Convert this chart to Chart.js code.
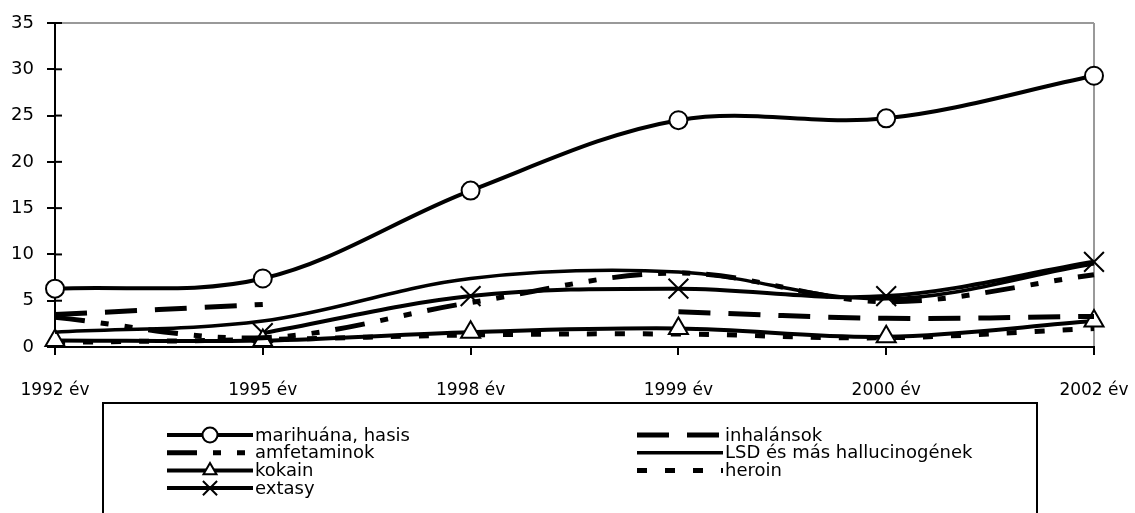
<!DOCTYPE html>
<html>
<head>
<meta charset="utf-8">
<script src="https://cdn.jsdelivr.net/npm/chart.js@4"></script>
<style>
  html, body { margin: 0; padding: 0; background: #fff; }
  #wrap { width: 1135px; height: 513px; position: relative; }
</style>
</head>
<body>
<div id="wrap"><canvas id="chartDrogok"></canvas></div>
<script>
// Data
const labels = ['1992 év', '1995 év', '1998 év', '1999 év', '2000 év', '2002 év'];
const marihuana = [6.3, 7.4, 16.9, 24.5, 24.7, 29.3];
const inhalansok = [3.5, 4.6, null, 3.8, 3.1, 3.3];
const amfetaminok = [3.2, 1.0, 4.8, 8.0, 4.9, 7.8];
const lsd = [1.6, 2.8, 7.4, 8.1, 5.2, 9.0];
const kokain = [0.7, 0.7, 1.6, 2.0, 1.1, 2.8];
const heroin = [0.5, 0.8, 1.3, 1.4, 1.0, 2.0];
const extasy = [null, 1.5, 5.5, 6.3, 5.5, 9.2];
const yTicks = [0, 5, 10, 15, 20, 25, 30, 35];

const fontFam = '"DejaVu Sans", sans-serif';

function serie(label, data, dash, style, width, radius) {
	return {
		label: label,
		data: data,
		borderColor: '#000',
		backgroundColor: '#fff',
		borderWidth: width,
		borderDash: dash,
		pointStyle: style || false,
		pointRadius: style ? radius : 0,
		pointBorderWidth: 2,
		pointBorderColor: '#000',
		pointBackgroundColor: '#fff',
		tension: 0.35,
		spanGaps: false
	};
}

const datasets = [
	serie('marihuána, hasis', marihuana, [], 'circle', 4, 9),
	serie('inhalánsok', inhalansok, [32, 18], null, 5),
	serie('amfetaminok', amfetaminok, [30, 16, 8, 16, 8, 16], null, 5),
	serie('LSD és más hallucinogének', lsd, [], null, 3.5),
	serie('kokain', kokain, [], 'triangle', 4, 11),
	serie('heroin', heroin, [10, 18], null, 5),
	serie('extasy', extasy, [], 'crossRot', 4, 14)
];

// Legend in a box, two columns
const boxLegend = {
	id: 'boxLegend',
	afterDraw(chart) {
		const ctx = chart.ctx;
		ctx.save();
		ctx.setLineDash([]);
		ctx.strokeStyle = '#000';
		ctx.lineWidth = 2;
		ctx.strokeRect(103, 403, 934, 130);
		ctx.font = '18px ' + fontFam;
		ctx.textBaseline = 'middle';
		ctx.fillStyle = '#000';
		chart.data.datasets.forEach(function(ds, i) {
			const col = i % 2;
			const row = Math.floor(i / 2);
			const x0 = col == 0 ? 167 : 637;
			const y = 435 + row * 17.7;
			ctx.strokeStyle = '#000';
			ctx.lineWidth = ds.borderWidth;
			ctx.setLineDash(ds.borderDash);
			ctx.beginPath();
			ctx.moveTo(x0, y);
			ctx.lineTo(x0 + 86, y);
			ctx.stroke();
			ctx.setLineDash([]);
			if (ds.pointStyle) {
				ctx.lineWidth = 2;
				ctx.fillStyle = '#fff';
				const r = ds.pointStyle == 'crossRot' ? 10 : 7.5;
				Chart.helpers.drawPoint(ctx, {pointStyle: ds.pointStyle, radius: r, borderWidth: 2, rotation: 0}, x0 + 43, y);
			}
			ctx.fillStyle = '#000';
			ctx.fillText(ds.label, x0 + 88, y + 1);
		});
		// inner half of the y tick marks
		const yScale = chart.scales.y;
		ctx.strokeStyle = '#000';
		ctx.lineWidth = 2;
		yTicks.forEach(function(v) {
			const py = yScale.getPixelForValue(v);
			ctx.beginPath();
			ctx.moveTo(chart.chartArea.left, py);
			ctx.lineTo(chart.chartArea.left + 7, py);
			ctx.stroke();
		});
		ctx.restore();
	}
};

const drogChart = new Chart(document.getElementById('chartDrogok'), {
	type: 'line',
	data: { labels: labels, datasets: datasets },
	plugins: [boxLegend],
	options: {
		responsive: true,
		maintainAspectRatio: false,
		animation: false,
		layout: { padding: { top: 23, right: 41, bottom: 0, left: 0 } },
		plugins: {
			legend: { display: false },
			tooltip: { enabled: false }
		},
		scales: {
			x: {
				offset: false,
				afterFit: function(scale) {
					scale.height = 166;
					scale.paddingLeft = 0;
					scale.paddingRight = 0;
				},
				border: { color: '#000', width: 2 },
				grid: {
					color: function(c) { return c.index == labels.length - 1 ? '#999' : 'rgba(0,0,0,0)'; },
					tickColor: '#000',
					lineWidth: 2,
					tickLength: 8
				},
				ticks: {
					color: '#000',
					padding: 25,
					maxRotation: 0,
					font: { family: fontFam, size: 17 }
				}
			},
			y: {
				min: 0,
				max: 35,
				afterFit: function(scale) {
					scale.width = 55;
					scale.paddingTop = 0;
					scale.paddingBottom = 0;
				},
				afterBuildTicks: function(scale) { scale.ticks = yTicks.map(function(v) { return {value: v}; }); },
				border: { color: '#000', width: 2 },
				grid: {
					color: function(c) { return c.tick && c.tick.value == 35 ? '#999' : 'rgba(0,0,0,0)'; },
					tickColor: '#000',
					lineWidth: 2,
					tickLength: 8
				},
				ticks: {
					color: '#000',
					padding: 13,
					font: { family: fontFam, size: 18 }
				}
			}
		}
	}
});
</script>
</body>
</html>
